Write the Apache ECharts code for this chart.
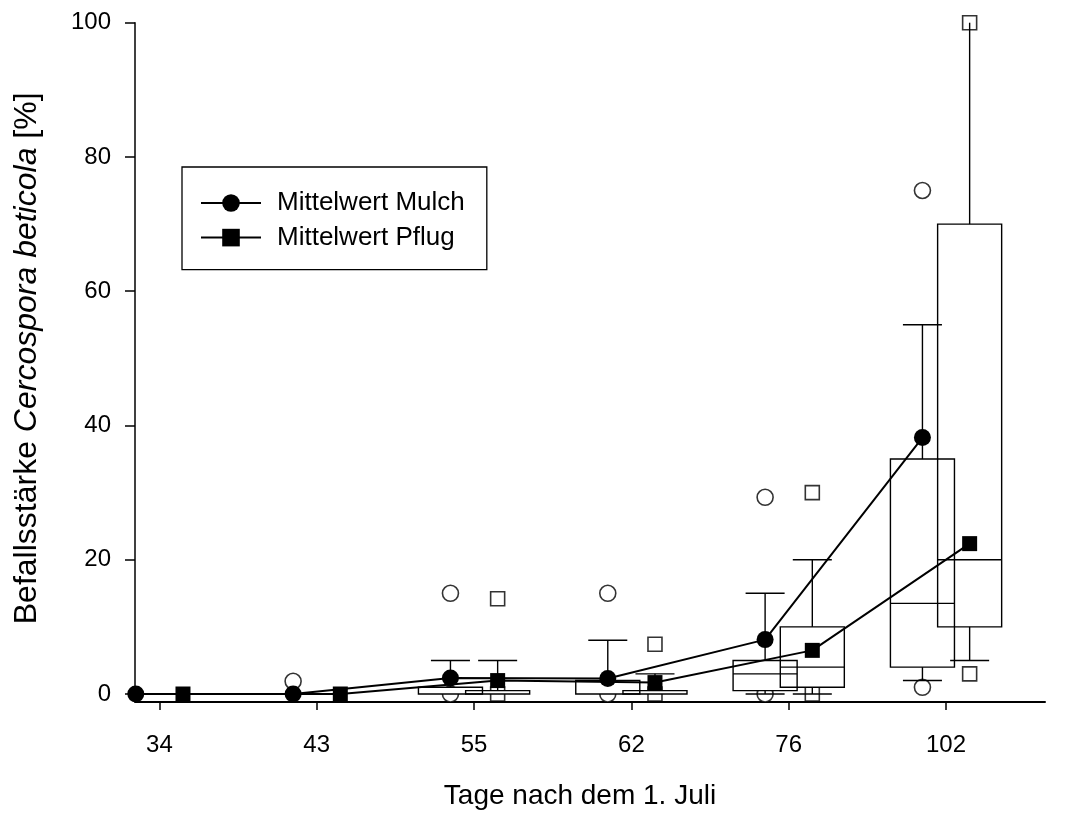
<!DOCTYPE html>
<html><head><meta charset="utf-8">
<script src="https://cdn.jsdelivr.net/npm/echarts@6/dist/echarts.min.js"></script>
<style>html,body{margin:0;padding:0;background:#fff}#c{width:1071px;height:815px}</style>
</head><body><div id="c"></div>
<script>
// ---- data ----
const categories = ['34', '43', '55', '62', '76', '102'];
const meanMulch = [0, 0, 2.4, 2.3, 8.1, 38.2];
const meanPflug = [0, 0, 2.0, 1.7, 6.5, 22.4];
// box stats per category: [lower whisker, q1, median, q3, upper whisker]; null = no box
const boxMulch = [null, null, [0, 0, 0, 1, 5], [0, 0, 0, 2, 8], [0, 0.5, 3, 5, 15], [2, 4, 13.5, 35, 55]];
const boxPflug = [null, null, [0, 0, 0, 0.5, 5], [0, 0, 0, 0.5, 3], [0, 1, 4, 10, 20], [5, 10, 20, 70, 100]];
const upperCapHiddenPflug = [false, false, false, false, false, true];
const outMulch = [[], [1.9], [15, 0], [15, 0], [29.3, 0], [75, 1]];
const outPflug = [[], [], [14.2, 0], [7.4, 0], [30, 0], [100, 3]];
const yTicks = [0, 20, 40, 60, 80, 100];

// ---- layout constants ----
const OFF = 0.15, BOX_W = 0.407, CAP_W = 0.248;
const FONT = "'Liberation Sans', Arial, sans-serif";

function boxData(stats, sign, hidden) {
  const d = [];
  stats.forEach((s, i) => {
    if (!s) return;
    d.push([i + sign * OFF, s[0], s[1], s[2], s[3], s[4], hidden && hidden[i] ? 1 : 0]);
  });
  return d;
}
function outData(out, sign) {
  const d = [];
  out.forEach((arr, i) => arr.forEach(v => d.push([i + sign * OFF, v])));
  return d;
}
function meanData(m, sign) { return m.map((v, i) => [i + sign * OFF, v]); }

function makeRender(fillOnly) {
  return function (params, api) {
    const x = api.value(0);
    const lo = api.value(1), q1 = api.value(2), med = api.value(3), q3 = api.value(4), hi = api.value(5), hideCap = api.value(6);
    const cx = api.coord([x, q3])[0];
    const yq3 = api.coord([x, q3])[1], yq1 = api.coord([x, q1])[1], ymed = api.coord([x, med])[1];
    const ylo = api.coord([x, lo])[1], yhi = api.coord([x, hi])[1];
    const bw = api.size([BOX_W, 0])[0], cw = api.size([CAP_W, 0])[0];
    if (fillOnly) {
      return { type: 'rect', shape: { x: cx - bw / 2, y: yq3, width: bw, height: yq1 - yq3 }, style: { fill: '#fff' } };
    }
    const ls = { stroke: '#000', lineWidth: 1.4 };
    const ch = [{ type: 'rect', shape: { x: cx - bw / 2, y: yq3, width: bw, height: yq1 - yq3 }, style: { fill: 'none', stroke: '#000', lineWidth: 1.4 } }];
    if (med > q1 && med < q3) ch.push({ type: 'line', shape: { x1: cx - bw / 2, y1: ymed, x2: cx + bw / 2, y2: ymed }, style: ls });
    if (hi > q3) {
      ch.push({ type: 'line', shape: { x1: cx, y1: yq3, x2: cx, y2: yhi }, style: ls });
      if (!hideCap) ch.push({ type: 'line', shape: { x1: cx - cw / 2, y1: yhi, x2: cx + cw / 2, y2: yhi }, style: ls });
    }
    if (lo < q1) {
      ch.push({ type: 'line', shape: { x1: cx, y1: yq1, x2: cx, y2: ylo }, style: ls });
      ch.push({ type: 'line', shape: { x1: cx - cw / 2, y1: ylo, x2: cx + cw / 2, y2: ylo }, style: ls });
    }
    return { type: 'group', children: ch };
  };
}

const chart = echarts.init(document.getElementById('c'), null, { renderer: 'canvas' });
const boxesM = boxData(boxMulch, -1, null);
const boxesP = boxData(boxPflug, 1, upperCapHiddenPflug);
const boxSeries = (data, fill, z) => ({
  type: 'custom', data: data, renderItem: makeRender(fill), z: z, clip: false, silent: true,
  encode: { x: 0, y: [1, 2, 3, 4, 5] }
});

chart.setOption({
  animation: false,
  backgroundColor: '#fff',
  textStyle: { fontFamily: FONT, color: '#000' },
  grid: { left: 135, right: 26, top: 22.7, bottom: 119.5, containLabel: false },
  legend: {
    data: ['Mittelwert Mulch', 'Mittelwert Pflug'],
    orient: 'vertical', left: 182, top: 167,
    padding: [23, 22, 19, 18], itemGap: 8.6, itemWidth: 60, itemHeight: 22,
    borderColor: '#000', borderWidth: 1.3, borderRadius: 0,
    textStyle: { fontSize: 26, lineHeight: 26, color: '#000', fontFamily: FONT, padding: [0, 0, 0, 11] }
  },
  xAxis: {
    type: 'value', min: -0.155, max: 5.629, offset: 8,
    name: 'Tage nach dem 1. Juli', nameLocation: 'middle', nameGap: 80,
    nameTextStyle: { fontSize: 28, color: '#000', fontFamily: FONT, padding: [0, 20, 0, 0] },
    axisLine: { onZero: false, lineStyle: { color: '#000', width: 2 } },
    axisTick: { customValues: [0, 1, 2, 3, 4, 5], length: 8, lineStyle: { color: '#000', width: 1.5 } },
    axisLabel: { customValues: [0, 1, 2, 3, 4, 5], formatter: v => categories[Math.round(v)], fontSize: 24, color: '#000', margin: 31, fontFamily: FONT },
    splitLine: { show: false }
  },
  yAxis: {
    type: 'value', min: 0, max: 100, interval: 20,
    name: 'Befallsstärke {i|Cercospora beticola} [%]', nameLocation: 'middle', nameGap: 92,
    nameTextStyle: { fontSize: 32, color: '#000', fontFamily: FONT, rich: { i: { fontStyle: 'italic', fontSize: 32, fontFamily: FONT, color: '#000' } } },
    axisLine: { show: true, onZero: false, lineStyle: { color: '#000', width: 1.5 } },
    axisTick: { show: true, length: 10, lineStyle: { color: '#000', width: 1.5 } },
    axisLabel: { fontSize: 24, color: '#000', margin: 24, fontFamily: FONT, formatter: v => String(v) },
    splitLine: { show: false }
  },
  series: [
    { type: 'scatter', data: outData(outMulch, -1), symbol: 'circle', symbolSize: 16, z: 1, clip: false, silent: true,
      itemStyle: { color: '#fff', borderColor: '#000', borderWidth: 1.6 } },
    { type: 'scatter', data: outData(outPflug, 1), symbol: 'rect', symbolSize: 14, z: 1, clip: false, silent: true,
      itemStyle: { color: '#fff', borderColor: '#000', borderWidth: 1.6 } },
    boxSeries(boxesM, true, 2), boxSeries(boxesP, true, 2),
    boxSeries(boxesM, false, 3), boxSeries(boxesP, false, 3),
    { name: 'Mittelwert Mulch', type: 'line', data: meanData(meanMulch, -1), symbol: 'circle', symbolSize: 17, showAllSymbol: true, z: 5, clip: false,
      lineStyle: { color: '#000', width: 2 }, itemStyle: { color: '#000' } },
    { name: 'Mittelwert Pflug', type: 'line', data: meanData(meanPflug, 1), symbol: 'rect', symbolSize: 15, showAllSymbol: true, z: 5, clip: false,
      lineStyle: { color: '#000', width: 2 }, itemStyle: { color: '#000' } }
  ]
});
</script></body></html>
